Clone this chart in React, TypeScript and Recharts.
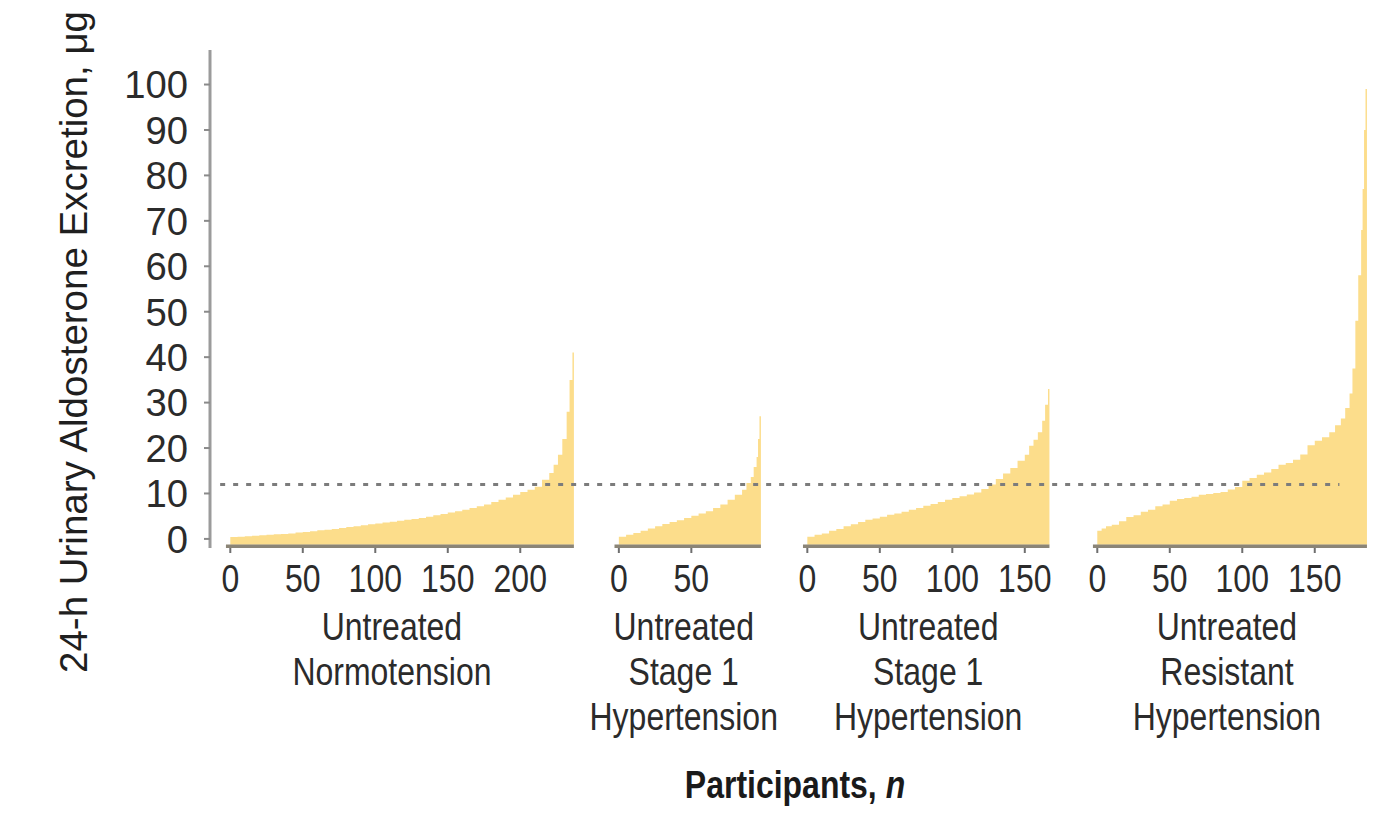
import { ComposedChart, Area, XAxis, YAxis, ReferenceLine } from "recharts";

const FONT = "'Liberation Sans', Arial, sans-serif";
const SQUEEZE = 0.82; // the source lettering is narrow (except the y ticks)
const INK = "#2b2b2b";
const BAR = "#fcdd8b";
const AXIS = "#8b8577";

// participants sorted by excretion: rank -> 24-h aldosterone (µg)
const normoRank = [0, 5, 10, 15, 20, 25, 30, 35, 40, 45, 50, 55, 60, 65, 70, 75, 80, 85, 90, 95, 100, 105, 110, 115, 120, 125, 130, 135, 140, 145, 150, 155, 160, 165, 170, 175, 180, 185, 190, 195, 200, 205, 210, 215, 220, 223, 226, 229, 232, 234, 236, 237];
const normoAldo = [0.3, 0.4, 0.5, 0.6, 0.7, 0.8, 0.9, 1.0, 1.1, 1.2, 1.4, 1.5, 1.7, 1.9, 2.0, 2.2, 2.4, 2.6, 2.8, 3.0, 3.2, 3.4, 3.6, 3.8, 4.0, 4.2, 4.4, 4.6, 4.9, 5.2, 5.5, 5.8, 6.1, 6.4, 6.8, 7.2, 7.6, 8.1, 8.6, 9.1, 9.7, 10.3, 10.8, 11.5, 13.0, 14.5, 16.3, 18.5, 22, 28, 35, 41];

const stage1Rank = [0, 5, 10, 15, 20, 25, 30, 35, 40, 45, 50, 55, 60, 65, 70, 75, 80, 85, 88, 91, 93, 95, 96, 97, 98];
const stage1Aldo = [0.2, 0.5, 0.9, 1.3, 1.8, 2.3, 2.8, 3.3, 3.7, 4.1, 4.6, 5.1, 5.6, 6.1, 6.8, 7.6, 8.6, 9.7, 10.8, 12.3, 13.6, 15.8, 18, 22, 27];

const stage1bRank = [0, 5, 10, 15, 20, 25, 30, 35, 40, 45, 50, 55, 60, 65, 70, 75, 80, 85, 90, 95, 100, 105, 110, 115, 120, 125, 130, 135, 140, 145, 150, 153, 156, 159, 162, 164, 166, 167];
const stage1bAldo = [0.2, 0.5, 0.9, 1.2, 1.8, 2.2, 2.8, 3.2, 3.7, 4.2, 4.5, 4.9, 5.3, 5.6, 6.0, 6.4, 6.8, 7.3, 7.7, 8.1, 8.6, 9.0, 9.4, 9.8, 10.2, 11.0, 12.0, 13.2, 14.4, 15.6, 17.2, 18.5, 20.5, 21.8, 23.5, 26.0, 29.5, 33.0];

const resistRank = [0, 3, 6, 10, 15, 20, 25, 30, 35, 40, 45, 50, 55, 60, 65, 70, 75, 80, 85, 90, 95, 100, 105, 110, 115, 120, 125, 130, 135, 140, 145, 150, 155, 160, 164, 168, 171, 174, 176, 178, 180, 182, 183, 184, 185, 186];
const resistAldo = [0.5, 1.8, 2.3, 2.8, 3.1, 3.9, 4.8, 5.2, 6.0, 6.4, 7.2, 7.6, 8.4, 8.8, 9.0, 9.3, 9.7, 9.9, 10.1, 10.3, 10.9, 11.4, 12.8, 13.4, 14.1, 14.6, 15.4, 16.3, 16.7, 17.4, 18.6, 20.6, 21.6, 22.4, 23.5, 25.0, 26.5, 28.8, 32.0, 37.5, 48.0, 58.0, 68.0, 77.0, 90.0, 99.0];

const groupLabels = [
  ["Untreated", "Normotension"],
  ["Untreated", "Stage 1", "Hypertension"],
  ["Untreated", "Stage 1", "Hypertension"],
  ["Untreated", "Resistant", "Hypertension"],
];
const groupN = [237, 98, 167, 186];
const groupTicks = [[0, 50, 100, 150, 200], [0, 50], [0, 50, 100, 150], [0, 50, 100, 150]];
const yTicks = [0, 10, 20, 30, 40, 50, 60, 70, 80, 90, 100];
const threshold = 12;

// where each panel starts on the shared x scale, and label nudges (px)
const OFFSETS = [0, 268, 398, 598];
const LABEL_DX = [-8, -4, 2, -3];

const groups = [
  { rank: normoRank, aldo: normoAldo },
  { rank: stage1Rank, aldo: stage1Aldo },
  { rank: stage1bRank, aldo: stage1bAldo },
  { rank: resistRank, aldo: resistAldo },
];

const rows: Record<string, number>[] = [];
groups.forEach((g, i) =>
  g.rank.forEach((r, j) => rows.push({ x: OFFSETS[i] + r, [`g${i}`]: g.aldo[j] }))
);

const tickText = new Map<number, string>();
groupTicks.forEach((ts, i) => ts.forEach((t) => tickText.set(OFFSETS[i] + t, String(t))));
const xTicks = [...tickText.keys()];

// draw text at origin, squeezed horizontally
function Narrow({ x, y, anchor, sx = SQUEEZE, children, ...rest }: any) {
  return (
    <g transform={`translate(${x},${y}) scale(${sx},1)`}>
      <text x={0} y={0} textAnchor={anchor} fontFamily={FONT} fontSize={39} fill={INK} {...rest}>
        {children}
      </text>
    </g>
  );
}

function XTick({ x, y, payload }: any) {
  return (
    <Narrow x={x} y={y} anchor="middle" dy="0.71em">
      {tickText.get(payload.value) ?? ""}
    </Narrow>
  );
}

function YTick({ x, y, payload }: any) {
  return (
    <Narrow x={x} y={y} anchor="end" dy="0.355em" sx={0.98}>
      {payload.value}
    </Narrow>
  );
}

function GroupLabel({ viewBox, lines, dx }: any) {
  if (!viewBox) return null;
  const cx = viewBox.x + viewBox.width / 2 + dx;
  return (
    <g>
      {lines.map((l: string, k: number) => (
        <Narrow key={k} x={cx} y={viewBox.y + 94 + k * 45} anchor="middle">
          {l}
        </Narrow>
      ))}
    </g>
  );
}

function XTitle({ viewBox }: any) {
  const cx = viewBox ? viewBox.x + viewBox.width / 2 : 795;
  return (
    <Narrow x={cx} y={798} anchor="middle" fontWeight="bold" fill="#1a1a1a">
      Participants, <tspan fontStyle="italic">n</tspan>
    </Narrow>
  );
}

function YTitle() {
  return (
    <text x={87} y={342} transform="rotate(-90, 87, 342)" textAnchor="middle" fontFamily={FONT} fontSize={38.5} fill="#1f1f1f">
      24-h Urinary Aldosterone Excretion, μg
    </text>
  );
}

export default function App() {
  return (
    <div style={{ width: 1396, height: 815, background: "#fff" }}>
      <style>{"body{margin:0}"}</style>
      <ComposedChart width={1396} height={815} data={rows} margin={{ top: 50, right: 16, bottom: 227, left: 0 }}>
        <XAxis
          dataKey="x"
          type="number"
          domain={[-14, 793]}
          allowDataOverflow
          ticks={xTicks}
          interval={0}
          axisLine={false}
          tickLine={{ stroke: "#6f6f6f", strokeWidth: 2 }}
          tickSize={5}
          tickMargin={11}
          height={40}
          tick={<XTick />}
          label={<XTitle />}
        />
        <YAxis
          type="number"
          domain={[-2, 107.6]}
          allowDataOverflow
          ticks={yTicks}
          interval={0}
          width={210}
          axisLine={{ stroke: "#9b9b9b", strokeWidth: 3 }}
          tickLine={{ stroke: "#8a8a8a", strokeWidth: 2 }}
          tickSize={6}
          tickMargin={16}
          tick={<YTick />}
          label={<YTitle />}
        />
        {groups.map((_, i) => (
          <Area
            key={`a${i}`}
            dataKey={`g${i}`}
            type="stepBefore"
            fill={BAR}
            fillOpacity={1}
            stroke="none"
            baseValue={-1.3}
            connectNulls={false}
            isAnimationActive={false}
          />
        ))}
        {groups.map((_, i) => (
          <ReferenceLine
            key={`b${i}`}
            segment={[
              { x: OFFSETS[i] - 3, y: -1.6 },
              { x: OFFSETS[i] + groupN[i], y: -1.6 },
            ]}
            stroke={AXIS}
            strokeWidth={3.5}
            label={<GroupLabel lines={groupLabels[i]} dx={LABEL_DX[i]} />}
          />
        ))}
        <ReferenceLine
          segment={[
            { x: -7, y: threshold },
            { x: 765, y: threshold },
          ]}
          stroke="#7c7c7c"
          strokeWidth={3}
          strokeDasharray="5 8"
        />
      </ComposedChart>
    </div>
  );
}
